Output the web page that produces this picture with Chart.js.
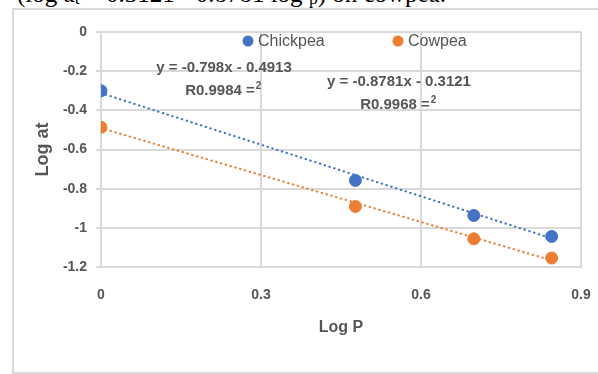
<!DOCTYPE html>
<html>
<head>
<meta charset="utf-8">
<script src="https://cdn.jsdelivr.net/npm/chart.js@4"></script>
<style>
  body { margin: 0; background: #fff; }
  #wrap { position: relative; width: 598px; height: 374px; overflow: hidden; }
  #caption { position: absolute; left: 17px; top: -19px; font: 25px "Liberation Serif", serif; line-height: 25px; white-space: nowrap; color: #000; }
  #caption sub { font-size: 70%; vertical-align: -2px; line-height: 0; }
  #frame { position: absolute; left: 12px; top: 8px; width: 600px; height: 362px; border: 2px solid #d9d9d9; }
  canvas { position: absolute; left: 0; top: 0; }
</style>
</head>
<body>
<div id="wrap">
  <div id="caption">(log a<sub>t</sub> = 0.3121 - 0.8781 log <sub>p</sub>) on cowpea.</div>
  <div id="frame"></div>
  <canvas id="chart" width="598" height="374"></canvas>
</div>
<script>
// Log P values (log 1, log 3, log 5, log 7)
const logP = [0, 0.477, 0.699, 0.845];
const chickpea = [-0.30, -0.758, -0.937, -1.044];
const cowpea = [-0.487, -0.891, -1.056, -1.154];

// trendline end points
const trendX = [0, 0.845];
const chickTrend = [-0.312, -1.054];
const cowTrend = [-0.491, -1.166];

const chickLabel = ["y = -0.8781x - 0.3121", "R0.9968 ="];
const cowLabel = ["y = -0.798x - 0.4913", "R0.9984 ="];

const blue = "#4472C4";
const orange = "#ED7D31";
const textColor = "#555555";
const gridColor = "#d9d9d9";

function pts(xs, ys) {
  return xs.map((x, i) => ({ x: x, y: ys[i] }));
}

// legend and trendline equations inside the plot
const overlay = {
  id: "overlay",
  afterDraw(chart) {
    const ctx = chart.ctx;
    ctx.save();
    ctx.textBaseline = "middle";

    // legend
    const items = [
      { text: "Chickpea", color: blue, x: 248 },
      { text: "Cowpea", color: orange, x: 398 }
    ];
    ctx.font = "16px 'Liberation Sans', Arial, sans-serif";
    items.forEach(it => {
      ctx.fillStyle = it.color;
      ctx.beginPath();
      ctx.arc(it.x, 41, 5.5, 0, Math.PI * 2);
      ctx.fill();
      ctx.fillStyle = textColor;
      ctx.textAlign = "left";
      ctx.fillText(it.text, it.x + 10, 42);
    });

    // equations
    function eq(lines, cx, y1, y2) {
      ctx.font = "bold 15px 'Liberation Sans', Arial, sans-serif";
      ctx.fillStyle = textColor;
      ctx.textAlign = "center";
      ctx.fillText(lines[0], cx, y1);
      const w = ctx.measureText(lines[1]).width;
      ctx.fillText(lines[1], cx - 4, y2);
      ctx.font = "bold 10px 'Liberation Sans', Arial, sans-serif";
      ctx.textAlign = "left";
      ctx.fillText("2", cx - 4 + w / 2 + 1, y2 - 5);
    }
    eq(cowLabel, 224, 68, 91);
    eq(chickLabel, 399, 82, 105);
    ctx.restore();
  }
};

const tickFont = { family: "'Liberation Sans', Arial, sans-serif", size: 14, weight: "bold" };

new Chart(document.getElementById("chart"), {
  type: "scatter",
  data: {
    datasets: [
      {
        label: "Chickpea",
        data: pts(logP, chickpea),
        backgroundColor: blue,
        borderColor: blue,
        pointRadius: 6,
        pointHoverRadius: 6,
        order: 0
      },
      {
        label: "Cowpea",
        data: pts(logP, cowpea),
        backgroundColor: orange,
        borderColor: orange,
        pointRadius: 6,
        pointHoverRadius: 6,
        order: 0
      },
      {
        label: "Chickpea trend",
        data: pts(trendX, chickTrend),
        showLine: true,
        borderColor: blue,
        borderWidth: 2.2,
        borderDash: [0.3, 4.7],
        borderCapStyle: "round",
        pointRadius: 0,
        order: 1
      },
      {
        label: "Cowpea trend",
        data: pts(trendX, cowTrend),
        showLine: true,
        borderColor: orange,
        borderWidth: 2.2,
        borderDash: [0.3, 4.7],
        borderCapStyle: "round",
        pointRadius: 0,
        order: 1
      }
    ]
  },
  options: {
    responsive: false,
    animation: false,
    layout: { padding: { left: 0, top: 32, right: 17, bottom: 0 } },
    plugins: {
      legend: { display: false },
      tooltip: { enabled: false }
    },
    scales: {
      x: {
        min: 0,
        max: 0.9,
        afterFit(scale) {
          scale.height = 107;
          scale.paddingLeft = 0;
          scale.paddingRight = 0;
        },
        ticks: {
          stepSize: 0.3,
          padding: 20,
          color: textColor,
          font: tickFont
        },
        grid: { color: gridColor, lineWidth: 2, drawTicks: false },
        border: { color: gridColor, width: 2 },
        title: {
          display: true,
          text: "Log P",
          color: textColor,
          padding: { top: 0, bottom: 37 },
          font: { family: "'Liberation Sans', Arial, sans-serif", size: 16, weight: "bold" }
        }
      },
      y: {
        min: -1.2,
        max: 0,
        afterFit(scale) {
          scale.width = 101;
          scale.paddingTop = 0;
          scale.paddingBottom = 0;
        },
        ticks: {
          stepSize: 0.2,
          padding: 9,
          color: textColor,
          font: tickFont,
          callback: v => String(Number(v.toFixed(1)))
        },
        grid: { color: gridColor, lineWidth: 2, tickLength: 5 },
        border: { color: gridColor, width: 2 },
        title: {
          display: true,
          text: "Log at",
          color: textColor,
          padding: { top: 32, bottom: 0 },
          font: { family: "'Liberation Sans', Arial, sans-serif", size: 18, weight: "bold" }
        }
      }
    }
  },
  plugins: [overlay]
});
</script>
</body>
</html>
